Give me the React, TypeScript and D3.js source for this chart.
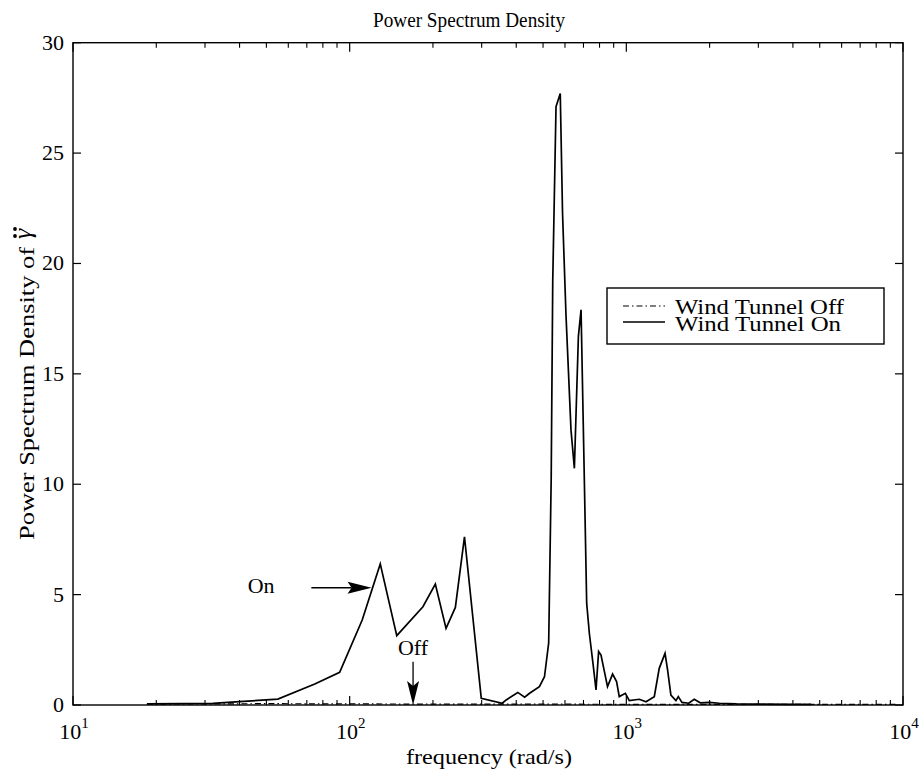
import React from "react";
import * as d3 from "d3";

// ---- data ----
const onFreq = [18.5, 25, 32, 40, 55, 74.8, 92, 111, 129, 148, 184, 204, 223, 241, 260, 299, 356, 368, 405, 429, 447, 485, 506, 524, 535, 542, 557, 577, 588, 605, 631, 649, 671, 686, 705, 719, 735, 760, 777, 794, 810, 855, 892, 922, 943, 992, 1025, 1114, 1178, 1262, 1315, 1380, 1410, 1449, 1511, 1541, 1589, 1680, 1760, 1850, 1995, 2168, 2500, 3000, 4000, 4650];
const onPsd = [0.05, 0.06, 0.07, 0.15, 0.27, 0.95, 1.48, 3.85, 6.39, 3.14, 4.45, 5.48, 3.47, 4.42, 7.62, 0.3, 0.08, 0.23, 0.57, 0.35, 0.53, 0.83, 1.28, 2.81, 10.2, 19.2, 27.1, 27.7, 22.3, 17.7, 12.45, 10.72, 16.7, 17.9, 10.2, 4.6, 3.25, 1.74, 0.68, 2.42, 2.26, 0.83, 1.4, 1.06, 0.38, 0.53, 0.2, 0.26, 0.15, 0.38, 1.66, 2.34, 1.58, 0.45, 0.2, 0.38, 0.12, 0.08, 0.26, 0.1, 0.12, 0.08, 0.05, 0.04, 0.03, 0.03];

const offFreq = [18.5, 30, 50, 100, 200, 500, 1000, 2000, 5000, 9500];
const offPsd = [0.04, 0.05, 0.06, 0.05, 0.04, 0.04, 0.03, 0.03, 0.03, 0.03];

const yTicks = [0, 5, 10, 15, 20, 25, 30];
const xDecades = [1, 2, 3, 4];
const legendLabels = ["Wind Tunnel Off", "Wind Tunnel On"];

// annotations in data coordinates
const onArrow = { x0: 72.7, x1: 120, y: 5.31, label: "On", labelX: 42.8, labelY: 5.07 };
const offArrow = { x: 169.5, y0: 1.96, y1: 0, label: "Off", labelY: 2.26 };

const W = 921;
const H = 771;
const left = 73;
const right = 903;
const top = 42.7;
const bottom = 705;
const FONT = "'Liberation Serif', 'Times New Roman', serif";

export default function App() {
  const x = d3.scaleLog().domain([10, 10000]).range([left, right]);
  const y = d3.scaleLinear().domain([0, 30]).range([bottom, top]);

  const line = d3
    .line<number>()
    .x((_, i) => x(onFreq[i]))
    .y((d) => y(d));
  const lineOff = d3
    .line<number>()
    .x((_, i) => x(offFreq[i]))
    .y((d) => y(d));

  const minorTicks: number[] = [];
  for (let e = 1; e < 4; e++) {
    for (let k = 2; k <= 9; k++) minorTicks.push(k * Math.pow(10, e));
  }

  const onTipX = x(onArrow.x1);
  const onY = y(onArrow.y);
  const offX = x(offArrow.x);
  const offTipY = y(offArrow.y1);

  return (
    <svg
      width={W}
      height={H}
      style={{ position: "absolute", left: 0, top: 0, background: "#fff" }}
      fontFamily={FONT}
    >
      <rect x={0} y={0} width={W} height={H} fill="#fff" />
      {/* title */}
      <text x={373} y={27} fontSize={21} textLength={192} lengthAdjust="spacingAndGlyphs">
        Power Spectrum Density
      </text>

      {/* data */}
      <path d={lineOff(offPsd) || ""} fill="none" stroke="#000" strokeWidth={1.2} strokeDasharray="6,3,1.5,3" />
      <path d={line(onPsd) || ""} fill="none" stroke="#000" strokeWidth={1.7} strokeLinejoin="miter" />

      {/* axes box */}
      <rect x={left} y={top} width={right - left} height={bottom - top} fill="none" stroke="#000" strokeWidth={1.4} />

      {/* x ticks */}
      {xDecades.map((e) => {
        const px = x(Math.pow(10, e));
        return (
          <g key={"xd" + e}>
            <line x1={px} x2={px} y1={bottom} y2={bottom - 9} stroke="#000" strokeWidth={1.2} />
            <line x1={px} x2={px} y1={top} y2={top + 9} stroke="#000" strokeWidth={1.2} />
            <text x={px + 1} y={739} fontSize={22} textAnchor="middle">
              10
              <tspan dy={-11} fontSize={15}>
                {e}
              </tspan>
            </text>
          </g>
        );
      })}
      {minorTicks.map((v) => {
        const px = x(v);
        return (
          <g key={"xm" + v}>
            <line x1={px} x2={px} y1={bottom} y2={bottom - 5} stroke="#000" strokeWidth={1.1} />
            <line x1={px} x2={px} y1={top} y2={top + 5} stroke="#000" strokeWidth={1.1} />
          </g>
        );
      })}

      {/* y ticks */}
      {yTicks.map((t) => {
        const py = y(t);
        return (
          <g key={"y" + t}>
            <line x1={left} x2={left + 8} y1={py} y2={py} stroke="#000" strokeWidth={1.2} />
            <line x1={right} x2={right - 8} y1={py} y2={py} stroke="#000" strokeWidth={1.2} />
            <text x={64} y={py + 7} fontSize={22} textAnchor="end">
              {t}
            </text>
          </g>
        );
      })}

      {/* axis labels */}
      <text x={406} y={764} fontSize={22} textLength={166} lengthAdjust="spacingAndGlyphs">
        frequency (rad/s)
      </text>
      <text
        transform={`translate(34,540) rotate(-90)`}
        fontSize={22}
        textLength={293}
        lengthAdjust="spacingAndGlyphs"
      >
        Power Spectrum Density of
      </text>
      <text transform={`translate(31,239) rotate(-90)`} fontSize={26} fontStyle="italic">
        γ
      </text>
      <circle cx={15} cy={229} r={1.9} fill="#000" />
      <circle cx={15} cy={236} r={1.9} fill="#000" />

      {/* annotations */}
      <text x={x(onArrow.labelX)} y={y(onArrow.labelY)} fontSize={22}>
        {onArrow.label}
      </text>
      <line x1={x(onArrow.x0)} x2={onTipX - 20} y1={onY} y2={onY} stroke="#000" strokeWidth={1.3} />
      <path d={`M${onTipX},${onY} L${onTipX - 24},${onY - 6} L${onTipX - 20},${onY} L${onTipX - 24},${onY + 6} Z`} fill="#000" />

      <text x={offX} y={y(offArrow.labelY)} fontSize={22} textAnchor="middle">
        {offArrow.label}
      </text>
      <line x1={offX} x2={offX} y1={y(offArrow.y0)} y2={offTipY - 18} stroke="#000" strokeWidth={1.3} />
      <path d={`M${offX},${offTipY} L${offX - 6},${offTipY - 24} L${offX},${offTipY - 19} L${offX + 6},${offTipY - 24} Z`} fill="#000" />

      {/* legend */}
      <rect x={607} y={288} width={277} height={56} fill="#fff" stroke="#000" strokeWidth={1.4} />
      <line x1={623} x2={665} y1={306} y2={306} stroke="#000" strokeWidth={1.2} strokeDasharray="6,3,1.5,3" />
      <line x1={623} x2={665} y1={322} y2={322} stroke="#000" strokeWidth={1.4} />
      <text x={675} y={314} fontSize={21} textLength={169} lengthAdjust="spacingAndGlyphs">
        {legendLabels[0]}
      </text>
      <text x={675} y={331} fontSize={21} textLength={166} lengthAdjust="spacingAndGlyphs">
        {legendLabels[1]}
      </text>
    </svg>
  );
}
